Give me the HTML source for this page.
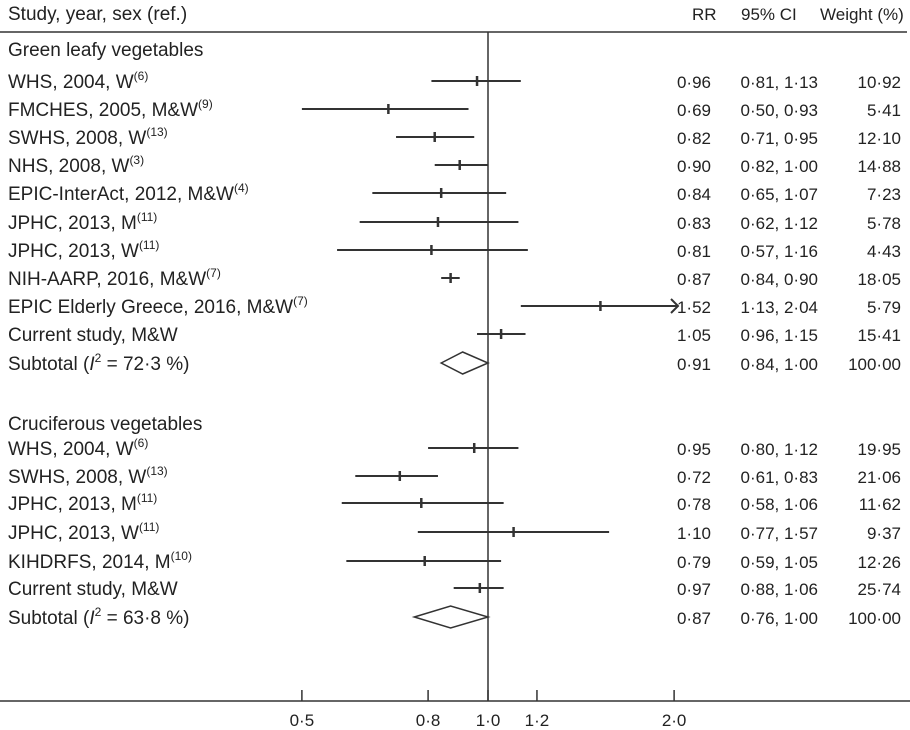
<!DOCTYPE html>
<html><head><meta charset="utf-8"><style>
body{margin:0;background:#fff}
svg{display:block;font-family:"Liberation Sans",Arial,sans-serif;font-size:17px;fill:#222}
text{fill:#222}
.lab{font-size:19px}
</style></head><body>
<svg id="chart" width="910" height="730" viewBox="0 0 910 730" xmlns="http://www.w3.org/2000/svg">
<text x="8" y="20" class="lab">Study, year, sex (ref.)</text>
<text x="692" y="20">RR</text>
<text x="741" y="20">95%  CI</text>
<text x="820" y="20">Weight (%)</text>
<line x1="0" y1="32" x2="907" y2="32" stroke="#333" stroke-width="1.5"/>
</svg>
<script>
const labels = ["Green leafy vegetables","WHS, 2004, W|(6)","FMCHES, 2005, M&W|(9)","SWHS, 2008, W|(13)","NHS, 2008, W|(3)","EPIC-InterAct, 2012, M&W|(4)","JPHC, 2013, M|(11)","JPHC, 2013, W|(11)","NIH-AARP, 2016, M&W|(7)","EPIC Elderly Greece, 2016, M&W|(7)","Current study, M&W","SUB|72·3","Cruciferous vegetables","WHS, 2004, W|(6)","SWHS, 2008, W|(13)","JPHC, 2013, M|(11)","JPHC, 2013, W|(11)","KIHDRFS, 2014, M|(10)","Current study, M&W","SUB|63·8"];
const rowY = [49,81,109,137,165,193,222,250,278,306,334,363,423,448,476,503,532,561,588,617];
const rr = [null,0.96,0.69,0.82,0.90,0.84,0.83,0.81,0.87,1.52,1.05,0.91,null,0.95,0.72,0.78,1.10,0.79,0.97,0.87];
const lo = [null,0.81,0.50,0.71,0.82,0.65,0.62,0.57,0.84,1.13,0.96,0.84,null,0.80,0.61,0.58,0.77,0.59,0.88,0.76];
const hi = [null,1.13,0.93,0.95,1.00,1.07,1.12,1.16,0.90,2.04,1.15,1.00,null,1.12,0.83,1.06,1.57,1.05,1.06,1.00];
const weight = [null,"10·92","5·41","12·10","14·88","7·23","5·78","4·43","18·05","5·79","15·41","100·00",null,"19·95","21·06","11·62","9·37","12·26","25·74","100·00"];
const tickVals = [0.5,0.8,1.0,1.2,2.0];
const tickLabels = ["0·5","0·8","1·0","1·2","2·0"];

const NS="http://www.w3.org/2000/svg";
const svg=document.getElementById('chart');
const X0=488, K=268.5, xMax=678;
function xs(v){return X0+K*Math.log(v);}
function fmt(v){return v.toFixed(2).replace('.','·');}
function mk(tag,attrs){const e=document.createElementNS(NS,tag);for(const k in attrs)e.setAttribute(k,attrs[k]);svg.appendChild(e);return e;}

let e=mk('line',{x1:xs(1),y1:32,x2:xs(1),y2:701,stroke:'#333','stroke-width':1.5});


e=mk('line',{x1:0,y1:701,x2:910,y2:701,stroke:'#333','stroke-width':1.5});


tickVals.forEach((v,i)=>{
  const t=mk('line',{x1:xs(v),y1:690,x2:xs(v),y2:701,stroke:'#333','stroke-width':1.5});
  
  
  const l=mk('text',{x:xs(v),y:726,'text-anchor':'middle'});
  l.textContent=tickLabels[i];
  
  
});

labels.forEach((lab,i)=>{
  const y=rowY[i];
  const t=mk('text',{x:8,y:y+7,'class':'lab'});
  
  
  const parts=lab.split('|');
  if(parts[0]==='SUB'){
    t.innerHTML='Subtotal (<tspan font-style="italic">I</tspan><tspan dy="-8" font-size="12">2</tspan><tspan dy="8"> = '+parts[1]+' %)</tspan>';
  } else if(parts.length>1){
    const a=document.createElementNS(NS,'tspan');a.textContent=parts[0];t.appendChild(a);
    const b=document.createElementNS(NS,'tspan');b.setAttribute('dy','-8');b.setAttribute('font-size','12');b.textContent=parts[1];t.appendChild(b);
  } else t.textContent=parts[0];
  if(rr[i]===null) return;
  const vt=mk('text',{x:711,y:y+7,'text-anchor':'end'});
  vt.textContent=fmt(rr[i]);
  
  
  const ct=mk('text',{x:818,y:y+7,'text-anchor':'end'});
  ct.textContent=fmt(lo[i])+', '+fmt(hi[i]);
  
  
  const wt=mk('text',{x:901,y:y+7,'text-anchor':'end'});
  wt.textContent=weight[i];
  
  
  if(parts[0]==='SUB'){
    const d=mk('polygon',{points:`${xs(lo[i])},${y} ${xs(rr[i])},${y-11} ${xs(hi[i])},${y} ${xs(rr[i])},${y+11}`,fill:'none',stroke:'#333','stroke-width':1.5});
    
    
    return;
  }
  const xr=Math.min(xs(hi[i]),xMax);
  const ln=mk('line',{x1:xs(lo[i]),y1:y,x2:xr,y2:y,stroke:'#333','stroke-width':2});
  
  
  if(xs(hi[i])>=xMax){
    const ar=mk('polyline',{points:`${xr-7},${y-7} ${xr},${y} ${xr-7},${y+7}`,fill:'none',stroke:'#333','stroke-width':2});
    
    
  }
  const pt=mk('line',{x1:xs(rr[i]),y1:y-5,x2:xs(rr[i]),y2:y+5,stroke:'#333','stroke-width':2.5});
  
  
});
</script>
</body></html>
